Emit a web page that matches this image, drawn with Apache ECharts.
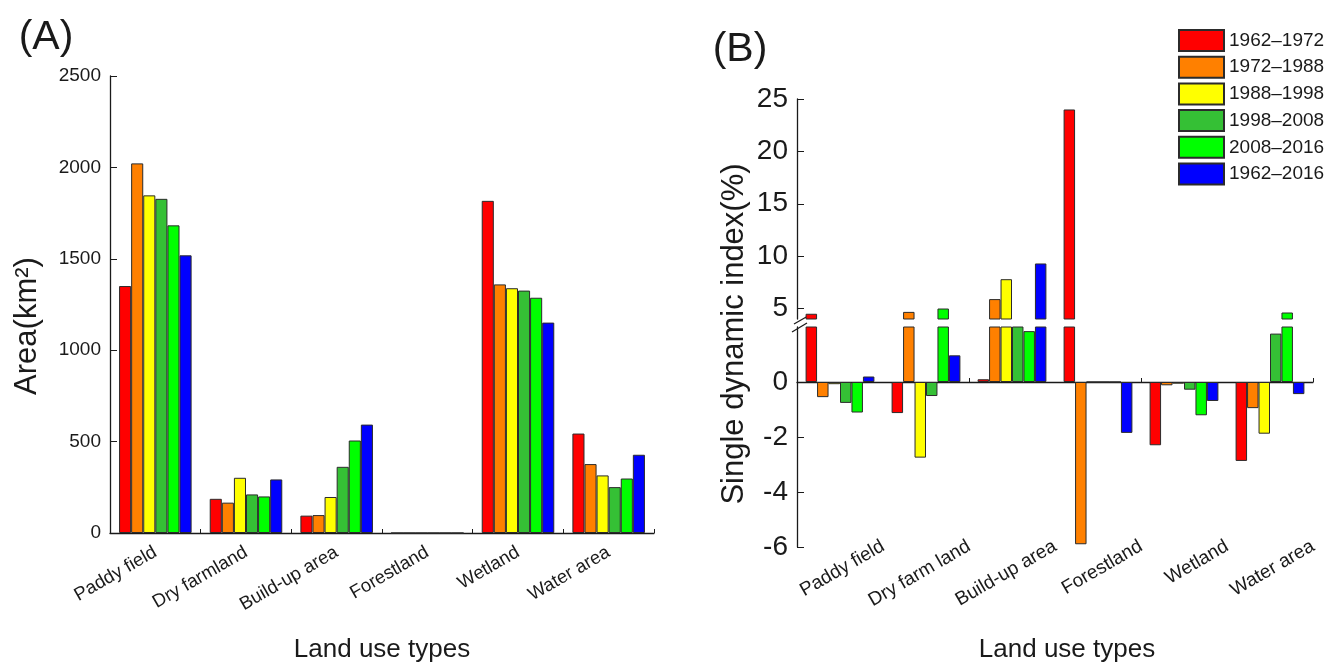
<!DOCTYPE html>
<html><head><meta charset="utf-8">
<script src="https://cdn.jsdelivr.net/npm/echarts@6/dist/echarts.min.js"></script>
<style>html,body{margin:0;padding:0;background:#fff}#c{width:1336px;height:664px}</style>
</head><body><div id="c"></div>
<script>
// ---------- data ----------
const periods = ['1962–1972', '1972–1988', '1988–1998', '1998–2008', '2008–2016', '1962–2016'];
const yearsA = ['1962', '1972', '1988', '1998', '2008', '2016'];
const categoriesA = ['Paddy field', 'Dry farmland', 'Build-up area', 'Forestland', 'Wetland', 'Water area'];
const categoriesB = ['Paddy field', 'Dry farm land', 'Build-up area', 'Forestland', 'Wetland', 'Water area'];

// Panel A: area (km2) per year, in category order
const area1962 = [1351, 187, 95, 0, 1817, 544];
const area1972 = [2022, 166, 98, 0, 1360, 377];
const area1988 = [1847, 302, 197, 0, 1339, 315];
const area1998 = [1828, 211, 362, 0, 1326, 251];
const area2008 = [1683, 200, 506, 0, 1287, 298];
const area2016 = [1519, 293, 593, 0, 1151, 428];

// Panel B: single dynamic index (%) per period, in category order
const dyn1962_1972 = [4.5, -1.13, 0.1, 24, -2.3, -2.87];
const dyn1972_1988 = [-0.55, 4.68, 5.9, -5.9, -0.12, -0.95];
const dyn1988_1998 = [-0.08, -2.75, 7.8, 0, -0.06, -1.88];
const dyn1998_2008 = [-0.76, -0.51, 2.3, 0, -0.28, 1.76];
const dyn2008_2016 = [-1.11, 5.0, 1.85, 0, -1.21, 4.62];
const dyn1962_2016 = [0.2, 0.97, 9.3, -1.85, -0.69, -0.44];

const ticksAreaA = [0, 500, 1000, 1500, 2000, 2500];
const ticksUpperB = [5, 10, 15, 20, 25];
const ticksLowerB = [-6, -4, -2, 0];

// ---------- style ----------
const colors = ['#FF0000', '#FF8000', '#FFFF00', '#35C035', '#00FF00', '#0000FF'];
const font = 'Liberation Sans, Arial, Helvetica, sans-serif';
const ink = '#1a1a1a';
const axisLine = { lineStyle: { color: ink, width: 1.3 } };

const areaSeries = [area1962, area1972, area1988, area1998, area2008, area2016];
const dynSeries = [dyn1962_1972, dyn1972_1988, dyn1988_1998, dyn1998_2008, dyn2008_2016, dyn1962_2016];

const barStyle = i => ({ color: colors[i], borderColor: '#2b2b2b', borderWidth: 1 });

const series = [];
yearsA.forEach((y, i) => series.push({
  name: y, type: 'bar', xAxisIndex: 0, yAxisIndex: 0, data: areaSeries[i],
  itemStyle: barStyle(i), barGap: '0%', barCategoryGap: '20%', silent: true
}));
// upper and lower segments of the broken axis in panel B
[1, 2].forEach(k => periods.forEach((p, i) => series.push({
  name: p, type: 'bar', xAxisIndex: k, yAxisIndex: k, data: dynSeries[i],
  itemStyle: barStyle(i), barGap: '0%', barCategoryGap: '20%', clip: true, silent: true
})));

const chart = echarts.init(document.getElementById('c'), null, { renderer: 'canvas' });

chart.setOption({
  animation: false,
  backgroundColor: '#fff',
  textStyle: { fontFamily: font, color: ink },
  grid: [
    { left: 110, right: 682, top: 76, bottom: 131 },
    { left: 797, right: 23, top: 99, height: 220 },
    { left: 797, right: 23, top: 327, height: 220 }
  ],
  legend: {
    data: periods, orient: 'vertical', left: 1178, top: 29, padding: 0,
    itemWidth: 45, itemHeight: 21, itemGap: 3.7, icon: 'rect',
    textStyle: { fontSize: 19, color: ink, fontFamily: font }
  },
  xAxis: [
    { gridIndex: 0, type: 'category', data: categoriesA, axisLine: axisLine,
      axisTick: { show: true, inside: true, length: 4, lineStyle: { color: ink } },
      axisLabel: { rotate: 30, margin: 18, fontSize: 18.5, color: ink, fontFamily: font, interval: 0 } },
    { gridIndex: 1, type: 'category', data: categoriesB, show: false },
    { gridIndex: 2, type: 'category', data: categoriesB, position: 'bottom',
      axisLine: { onZero: true, lineStyle: { color: ink, width: 1.3 } },
      axisTick: { show: true, inside: true, length: 4, lineStyle: { color: ink } },
      axisLabel: { show: false } },
    { gridIndex: 2, type: 'category', data: [''].concat(categoriesB), boundaryGap: false, position: 'bottom',
      axisLine: { show: false, onZero: false }, axisTick: { show: false },
      axisLabel: { rotate: 30, margin: -2, fontSize: 19, color: ink, fontFamily: font, interval: 0 } }
  ],
  yAxis: [
    { gridIndex: 0, type: 'value', min: ticksAreaA[0], max: ticksAreaA[ticksAreaA.length - 1], interval: 500,
      axisLine: { show: true, lineStyle: { color: ink, width: 1.3 } },
      axisTick: { show: true, inside: true, length: 7, lineStyle: { color: ink } },
      splitLine: { show: false },
      axisLabel: { fontSize: 19, margin: 9, color: ink, fontFamily: font, formatter: v => String(v) } },
    { gridIndex: 1, type: 'value', min: 4, max: 25,
      axisLine: { show: true, onZero: false, lineStyle: { color: ink, width: 1.3 } },
      axisTick: { show: true, inside: true, length: 7, lineStyle: { color: ink }, customValues: ticksUpperB },
      splitLine: { show: false },
      axisLabel: { fontSize: 28, margin: 9, color: ink, fontFamily: font, customValues: ticksUpperB } },
    { gridIndex: 2, type: 'value', min: -6, max: 2,
      axisLine: { show: true, onZero: false, lineStyle: { color: ink, width: 1.3 } },
      axisTick: { show: true, inside: true, length: 7, lineStyle: { color: ink }, customValues: ticksLowerB },
      splitLine: { show: false },
      axisLabel: { fontSize: 28, margin: 9, color: ink, fontFamily: font, customValues: ticksLowerB } }
  ],
  series: series
});

// ---------- texts and axis-break marks ----------
const txt = (text, x, y, size, opts) => Object.assign({
  type: 'text', x: x, y: y, silent: true,
  style: { text: text, font: size + 'px ' + font, fill: ink,
    align: 'center', verticalAlign: 'middle', textAlign: 'center', textVerticalAlign: 'middle' }
}, opts || {});

const ax = chart.convertToPixel({ xAxisIndex: 3 }, 0);
const upBottom = chart.convertToPixel({ yAxisIndex: 1 }, 4);
const loTop = chart.convertToPixel({ yAxisIndex: 2 }, 2);
const brk = (x1, y1, x2, y2) => ({ type: 'line', silent: true,
  shape: { x1: x1, y1: y1, x2: x2, y2: y2 }, style: { stroke: ink, lineWidth: 1.3 } });

chart.setOption({
  graphic: [
    txt('(A)', 46, 38, 41),
    txt('(B)', 740, 50, 41),
    txt('Land use types', 382, 650, 26),
    txt('Land use types', 1067, 650, 26),
    txt('Area(km²)', 27, 326, 31, { rotation: Math.PI / 2 }),
    txt('Single dynamic index(%)', 734, 334, 31, { rotation: Math.PI / 2 }),
    { type: 'rect', silent: true, shape: { x: ax - 3, y: upBottom, width: 6, height: loTop - upBottom }, style: { fill: '#fff' } },
    brk(ax - 3, upBottom + 5, ax + 11, upBottom - 3),
    brk(ax - 5, loTop + 5, ax + 10, loTop - 4)
  ]
});
</script>
</body></html>
